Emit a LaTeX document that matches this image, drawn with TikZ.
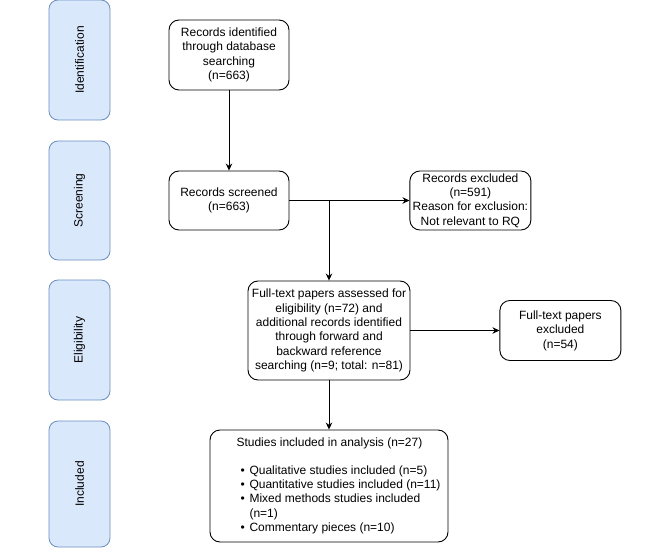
\documentclass[tikz,border=0pt]{standalone}
\usepackage{fontspec}
\setmainfont{Liberation Sans}
\usetikzlibrary{arrows.meta,calc,positioning}
\definecolor{stagefill}{HTML}{DAE8FC}
\definecolor{stageline}{HTML}{6C8EBF}
\newcommand{\bitem}[1]{\hspace*{4pt}\makebox[9pt][l]{\textbullet}#1}

\begin{document}
\begin{tikzpicture}[x=1pt,y=-1pt,node distance=20pt and 20pt]

\tikzset{stagenode/.style={font=\fontsize{12}{14.4}\selectfont,fill=stagefill,draw=stageline,line width=0.8pt,rounded corners=9pt,inner sep=0pt,minimum width=61pt,minimum height=120pt},
boxnode/.style={font=\fontsize{12}{14.4}\selectfont,draw=black,line width=0.9pt,rounded corners=10pt,inner sep=0pt,align=center},
arrow/.style={line width=0.9pt,-{Stealth[length=7pt,width=6.5pt]}}}

\useasboundingbox (0,0) rectangle (670,551);

% Stage nodes
\node (sIdent) [stagenode] at (79.5,60) {\rotatebox{90}{Identification}};
\node (sScreen) [stagenode,minimum height=119pt] at (79.5,200.5) {\rotatebox{90}{Screening}};
\node (sElig) [stagenode] at (79.5,340) {\rotatebox{90}{Eligibility}};
\node (sIncl) [stagenode,minimum height=126pt] at (79.5,484) {\rotatebox{90}{Included}};

% Flow nodes
\node (records) [boxnode,minimum width=120pt,minimum height=70pt] at (229,55) {Records identified\\through database\\searching\\(n=663)};
\node (screened) [boxnode,minimum width=120pt,minimum height=59pt] at (229,200.5) {Records screened\\(n=663)};
\node (excluded) [right=120pt of screened,boxnode,minimum width=121pt,minimum height=59pt] {Records excluded\\(n=591)\\Reason for exclusion:\\Not relevant to RQ};
\node (fulltext) [boxnode,minimum width=162pt,minimum height=99pt] at (329,330.5) {Full-text papers assessed for\\eligibility (n=72) and\\additional records identified\\through forward and\\backward reference\\searching (n=9; total: n=81)};
\node (ftExcluded) [right=89pt of fulltext,boxnode,minimum width=121pt,minimum height=60pt] {Full-text papers\\excluded\\(n=54)};
\node (included) [boxnode,minimum width=238pt,minimum height=112pt] at (329,486) {\begin{tabular}{@{\hspace{19pt}}l@{}}
Studies included in analysis (n=27)\\[13.6pt]
\bitem{Qualitative studies included (n=5)}\\
\bitem{Quantitative studies included (n=11)}\\
\bitem{Mixed methods studies included}\\
\hspace*{13pt}(n=1)\\
\bitem{Commentary pieces (n=10)}
\end{tabular}};

% Edges
\coordinate (split) at (fulltext.north |- screened.east);
\draw[arrow] (records) -- (screened);
\draw[arrow] (screened) -- (excluded);
\draw[arrow] (split) -- (fulltext);
\draw[arrow] (fulltext) -- (ftExcluded);
\draw[arrow] (fulltext) -- (included);

\end{tikzpicture}
\end{document}
